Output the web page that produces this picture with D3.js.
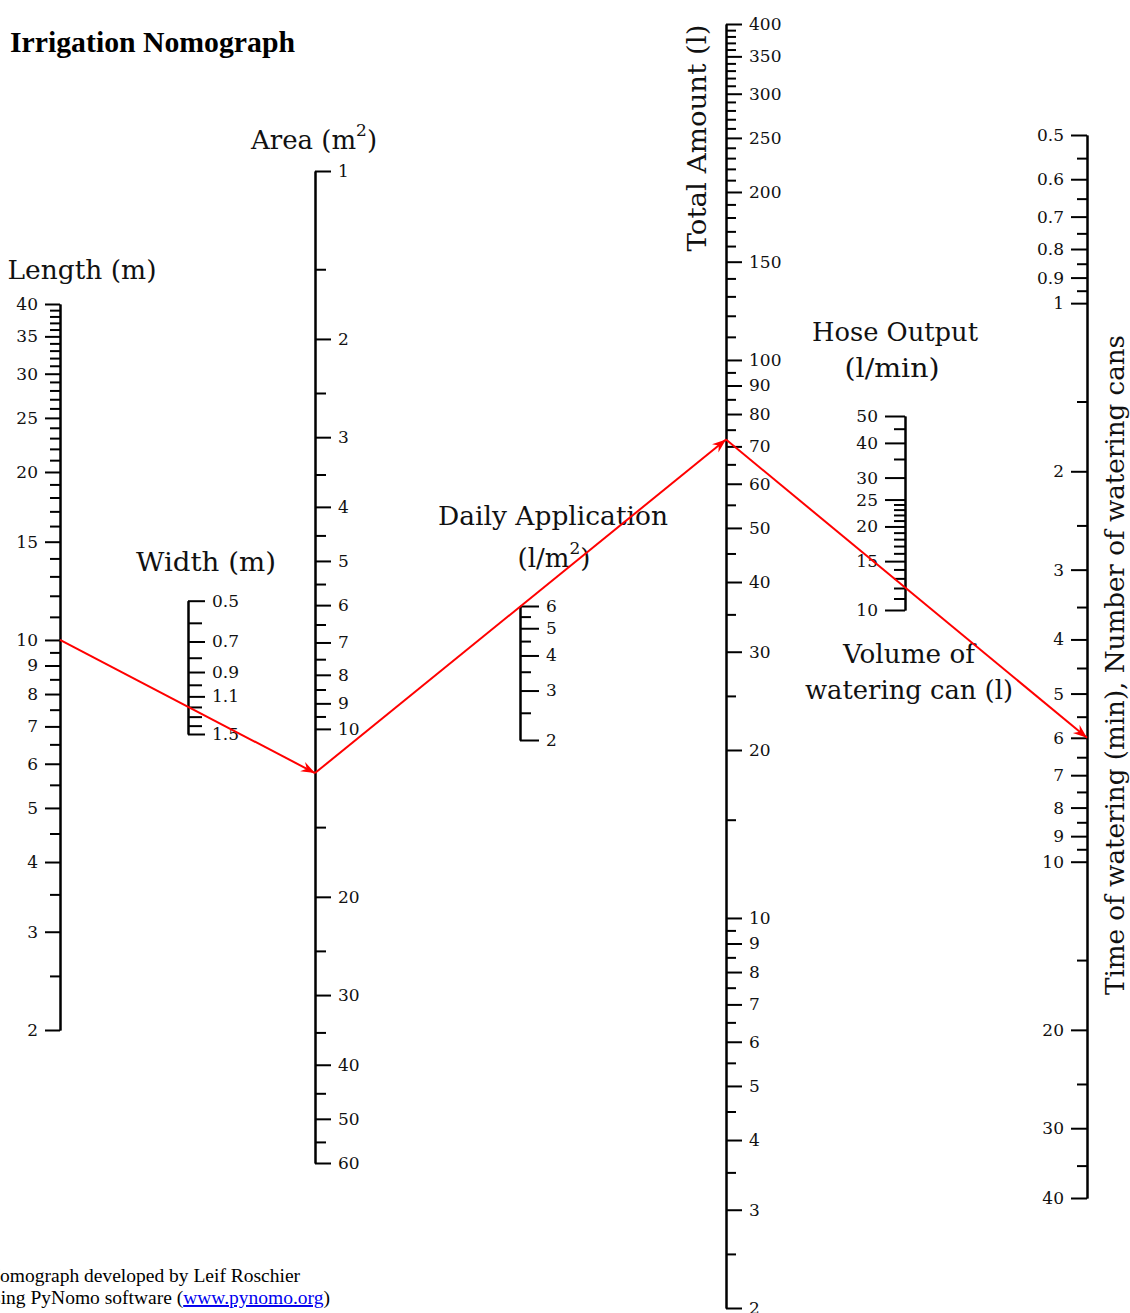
<!DOCTYPE html>
<html>
<head>
<meta charset="utf-8">
<script src="https://cdn.jsdelivr.net/npm/d3@7"></script>
<style>
body { margin: 0; background: #fff; }
svg { display: block; }
</style>
</head>
<body>
<div id="chart"></div>
<script>
// tick values for each scale (labelled ticks and minor ticks)
var lengthMajor = [2, 3, 4, 5, 6, 7, 8, 9, 10, 15, 20, 25, 30, 35, 40];
var lengthMinor = [2.5, 3.5, 4.5, 5.5, 6.5, 7.5, 8.5, 9.5, 11, 12, 13, 14, 16, 17, 18, 19,
  21, 22, 23, 24, 26, 27, 28, 29, 31, 32, 33, 34, 36, 37, 38, 39];

var widthMajor = [0.5, 0.7, 0.9, 1.1, 1.5];
var widthMinor = [0.6, 0.8, 1.0, 1.2, 1.3, 1.4];

var areaMajor = [1, 2, 3, 4, 5, 6, 7, 8, 9, 10, 20, 30, 40, 50, 60];
var areaMinor = [1.5, 2.5, 3.5, 4.5, 5.5, 6.5, 7.5, 8.5, 9.5, 15, 25, 35, 45, 55];

var dailyMajor = [2, 3, 4, 5, 6];
var dailyMinor = [2.5, 3.5, 4.5, 5.5];

var totalMajor = [2, 3, 4, 5, 6, 7, 8, 9, 10, 20, 30, 40, 50, 60, 70, 80, 90, 100, 150, 200, 250, 300, 350, 400];
var totalMinor = [2.5, 3.5, 4.5, 5.5, 6.5, 7.5, 8.5, 9.5, 15, 25, 35, 45, 55, 65, 75, 85, 95,
  110, 120, 130, 140, 160, 170, 180, 190, 210, 220, 230, 240, 260, 270, 280, 290,
  310, 320, 330, 340, 360, 370, 380, 390];

var hoseMajor = [10, 15, 20, 25, 30, 40, 50];
var hoseMinor = [11, 12, 13, 14, 16, 17, 18, 19, 21, 22, 23, 24, 35, 45];

var timeMajor = [0.5, 0.6, 0.7, 0.8, 0.9, 1, 2, 3, 4, 5, 6, 7, 8, 9, 10, 20, 30, 40];
var timeMinor = [0.55, 0.65, 0.75, 0.85, 0.95, 1.5, 2.5, 3.5, 4.5, 5.5, 6.5, 7.5, 8.5, 9.5, 15, 25, 35];

// worked example (red isopleth): length, area, total amount, time
var exampleAxes = ["length", "area", "total", "time"];
var exampleValues = [10, 12, 72, 6];

var svg = d3.select("#chart").append("svg")
  .attr("width", 1130)
  .attr("height", 1313);

var serif = "DejaVu Serif";

// scales
var sc = {
  length: { x: 60,   s: d3.scaleLog().domain([2, 40]).range([1030, 304]) },
  width:  { x: 188,  s: d3.scaleLog().domain([0.5, 1.5]).range([600.7, 734]) },
  area:   { x: 315,  s: d3.scaleLog().domain([1, 60]).range([171, 1163]) },
  daily:  { x: 520,  s: d3.scaleLog().domain([2, 6]).range([740, 606]) },
  total:  { x: 726,  s: d3.scaleLog().domain([2, 400]).range([1308, 24]) },
  hose:   { x: 905,  s: d3.scaleLog().domain([10, 50]).range([610, 416]) },
  time:   { x: 1087, s: d3.scaleLog().domain([0.5, 40]).range([135, 1198]) }
};

function drawScale(key, side, majors, minors, majLen, minLen) {
  var a = sc[key];
  var mk = side == "left" ? d3.axisLeft : d3.axisRight;
  var g = svg.append("g").attr("transform", "translate(" + a.x + ",0)");

  g.append("g")
    .call(mk(a.s).tickValues(minors).tickSize(minLen).tickSizeOuter(0).tickFormat(""));
  g.append("g")
    .call(mk(a.s).tickValues(majors).tickSize(majLen).tickSizeOuter(0).tickPadding(7)
      .tickFormat(function(d) { return String(d); }));

  g.selectAll("path.domain").attr("stroke", "#000").attr("stroke-width", 2);
  g.selectAll(".tick line").attr("stroke", "#000").attr("stroke-width", 2);
  g.selectAll("text")
    .attr("font-family", serif)
    .attr("font-size", 17)
    .attr("fill", "#111");
}

drawScale("length", "left", lengthMajor, lengthMinor, 15, 10);
drawScale("width", "right", widthMajor, widthMinor, 17, 14);
drawScale("area", "right", areaMajor, areaMinor, 16, 11);
drawScale("daily", "right", dailyMajor, dailyMinor, 19, 11);
drawScale("total", "right", totalMajor, totalMinor, 16, 10);
drawScale("hose", "left", hoseMajor, hoseMinor, 20, 11);
drawScale("time", "left", timeMajor, timeMinor, 16, 10);

// titles
function title(txt, x, y, w, rot) {
  var t = svg.append("text")
    .attr("font-family", serif)
    .attr("font-size", 26)
    .attr("fill", "#111")
    .attr("text-anchor", "middle")
    .attr("dominant-baseline", "central")
    .text(txt);
  if (w) t.attr("textLength", w).attr("lengthAdjust", "spacingAndGlyphs");
  if (rot) t.attr("transform", "translate(" + x + "," + y + ") rotate(-90)");
  else t.attr("x", x).attr("y", y);
  return t;
}

title("Length (m)", 82, 270, 149);
title("Width (m)", 206, 562, 140);
title("Daily Application", 553, 516, 230);
title("Hose Output", 895, 332, 166);
title("(l/min)", 892, 368, 95);
title("Volume of", 909, 654, 132);
title("watering can (l)", 909, 690, 208);
title("Total Amount (l)", 697, 138, 227, true);
title("Time of watering (min), Number of watering cans", 1115, 665, 660, true);

// titles with superscripts
var areaT = svg.append("text")
  .attr("x", 314).attr("y", 140)
  .attr("font-family", serif).attr("font-size", 26).attr("fill", "#111")
  .attr("text-anchor", "middle").attr("dominant-baseline", "central");
areaT.append("tspan").text("Area (m");
areaT.append("tspan").attr("font-size", 17).attr("dy", -10).text("2");
areaT.append("tspan").attr("dy", 10).text(")");

var dailyT = svg.append("text")
  .attr("x", 554).attr("y", 558)
  .attr("font-family", serif).attr("font-size", 26).attr("fill", "#111")
  .attr("text-anchor", "middle").attr("dominant-baseline", "central");
dailyT.append("tspan").text("(l/m");
dailyT.append("tspan").attr("font-size", 17).attr("dy", -10).text("2");
dailyT.append("tspan").attr("dy", 10).text(")");

// main title
svg.append("text")
  .attr("x", 10).attr("y", 52)
  .attr("font-family", "Liberation Serif")
  .attr("font-weight", "bold")
  .attr("font-size", 29)
  .attr("textLength", 285)
  .attr("lengthAdjust", "spacingAndGlyphs")
  .text("Irrigation Nomograph");

// isopleth
var defs = svg.append("defs");
defs.append("marker")
  .attr("id", "arrow")
  .attr("viewBox", "0 -5 12 10")
  .attr("refX", 12).attr("refY", 0)
  .attr("markerWidth", 14).attr("markerHeight", 12)
  .attr("markerUnits", "userSpaceOnUse")
  .attr("orient", "auto")
  .append("path")
  .attr("d", "M0,-4.5L12,0L0,4.5L4,0Z")
  .attr("fill", "#f00");

var pts = exampleAxes.map(function(k, i) {
  return [sc[k].x, sc[k].s(exampleValues[i])];
});

for (var i = 0; i < pts.length - 1; i++) {
  svg.append("line")
    .attr("x1", pts[i][0]).attr("y1", pts[i][1])
    .attr("x2", pts[i + 1][0]).attr("y2", pts[i + 1][1])
    .attr("stroke", "#f00")
    .attr("stroke-width", 2)
    .attr("marker-end", "url(#arrow)");
}

// footer
var f1 = svg.append("text")
  .attr("x", -14).attr("y", 1282)
  .attr("font-family", "Liberation Serif").attr("font-size", 19.5).attr("fill", "#000")
  .text("Nomograph developed by Leif Roschier");
var f2 = svg.append("text")
  .attr("x", -21).attr("y", 1304)
  .attr("font-family", "Liberation Serif").attr("font-size", 19.5).attr("fill", "#000");
f2.append("tspan").text("Using PyNomo software (");
f2.append("tspan").attr("fill", "#00e").attr("text-decoration", "underline").text("www.pynomo.org");
f2.append("tspan").text(")");
</script>
</body>
</html>
